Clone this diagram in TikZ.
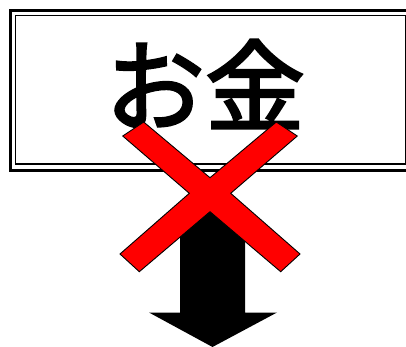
\documentclass[tikz,border=0pt]{standalone}
\usepackage{fontspec}
\newfontfamily\jpfont[FakeBold=2.5]{Noto Sans CJK JP}
\begin{document}
\begin{tikzpicture}[x=1pt,y=-1pt,
  xcross/.style={fill=red,draw=black,line width=0.9pt,line join=miter},
  downarrow/.style={fill=black,draw=none}]
\useasboundingbox (0,0) rectangle (406,347);
\begin{scope}
\clip (0,0) rectangle (406,347);
% double frame
\draw[line width=2.6pt] (10.5,10.5) rectangle (420,170.5);
\draw[line width=1.4pt] (15.5,15.8) rectangle (405.5,164);
% text
\node[inner sep=0pt,anchor=center] (money) at (205,84) {\jpfont\fontsize{100}{100}\selectfont お金};
% down arrow
\path[downarrow] (180,207) -- (245,207) -- (245,312.5) -- (277,312.5) -- (212.5,347) -- (149,312.5) -- (180,312.5) -- cycle;
% red cross
\draw[xcross] (143.7,122) -- (210,177.7) -- (276.3,122) -- (297.3,136) -- (230.7,193.3)
  -- (300,254) -- (280.7,271.7) -- (210,211.7) -- (139.3,271.7) -- (120,254)
  -- (189.3,193.3) -- (122.7,136) -- cycle;
\end{scope}
\end{tikzpicture}
\end{document}
